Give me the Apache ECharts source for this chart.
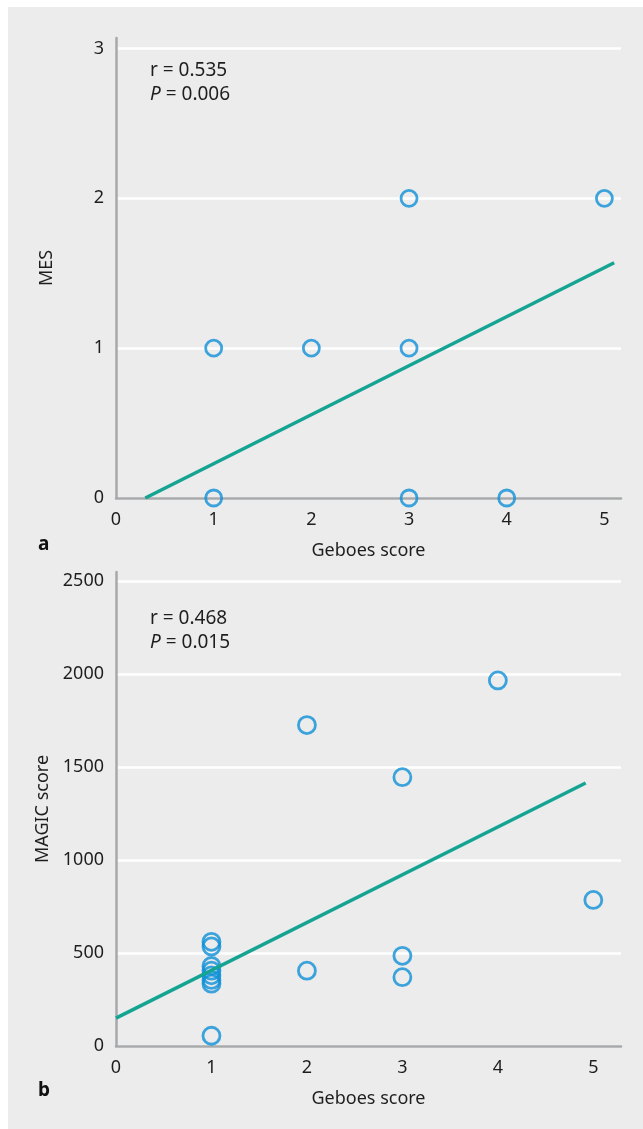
<!DOCTYPE html>
<html>
<head>
<meta charset="utf-8">
<script src="https://cdn.jsdelivr.net/npm/echarts@6/dist/echarts.min.js"></script>
<style>
html,body{margin:0;padding:0;background:#fff;}
#c{width:643px;height:1129px;}
</style>
</head>
<body>
<div id="c"></div>
<script>
// Panel a: MES vs Geboes score
const mesPoints = [[1,0],[1,1],[2,1],[3,0],[3,1],[3,2],[4,0],[5,2]];
const mesFit = [[0.3,0],[5.1,1.57]];
const mesStats = {r: '0.535', p: '0.006'};
// Panel b: MAGIC score vs Geboes score
const magicPoints = [[1,55],[1,560],[1,535],[1,430],[1,405],[1,380],[1,355],[1,335],
  [2,1725],[2,405],[3,1445],[3,485],[3,370],[4,1965],[5,785]];
const magicFit = [[0,150],[4.92,1414]];
const magicStats = {r: '0.468', p: '0.015'};
const xTicks = [0,1,2,3,4,5];
const mesTicks = [0,1,2,3];
const magicTicks = [0,500,1000,1500,2000,2500];

const FONT = 'Noto Sans';
const TXT = '#1e1e1e';
const PT = '#0f90d8';
const LN = '#15a493';

function xAxisCfg(gi, max){
  return {
    gridIndex: gi, type:'value', min:0, max:max, interval:1,
    name:'Geboes score', nameLocation:'middle', nameGap:44,
    nameTextStyle:{fontFamily:FONT, fontSize:18, color:TXT},
    axisLine:{show:true, onZero:false, lineStyle:{color:'#a7a8aa', width:2.5}},
    axisTick:{show:false},
    splitLine:{show:false},
    axisLabel:{fontFamily:FONT, fontSize:18, color:TXT, margin:13,
      formatter:v => xTicks.includes(v) ? String(v) : ''}
  };
}
function yAxisCfg(gi, max, interval, name, gap, ticks){
  return {
    gridIndex: gi, type:'value', min:0, max:max, interval:interval,
    name:name, nameLocation:'middle', nameGap:gap,
    nameTextStyle:{fontFamily:FONT, fontSize:18, color:TXT},
    axisLine:{show:true, lineStyle:{color:'#a7a8aa', width:2.5}},
    axisTick:{show:false},
    splitLine:{show:true, showMaxLine:false, lineStyle:{color:'#ffffff', width:2.5}},
    axisLabel:{fontFamily:FONT, fontSize:18, color:TXT, margin:12,
      showMaxLabel:false,
      formatter:v => ticks.includes(v) ? String(v) : ''}
  };
}

const rich = {
  n:{fontFamily:FONT, fontSize:19, fill:TXT, lineHeight:24},
  i:{fontFamily:FONT, fontSize:19, fontStyle:'italic', fill:TXT, lineHeight:24}
};

const chart = echarts.init(document.getElementById('c'), null, {renderer:'canvas'});
chart.setOption({
  backgroundColor:'#ffffff',
  animation:false,
  graphic:[
    {type:'rect', left:8, top:7, shape:{width:635, height:1122}, style:{fill:'#ebeceb'}, z:-10},
    {type:'text', left:38, top:535, style:{text:'a', font:'bold 19px "Noto Sans"', fill:'#111'}},
    {type:'text', left:38, top:1081, style:{text:'b', font:'bold 19px "Noto Sans"', fill:'#111'}},
    {type:'text', left:150, top:61, style:{
      text:'{n|r = ' + mesStats.r + '}\n{i|P}{n| = ' + mesStats.p + '}', rich:rich}},
    {type:'text', left:150, top:609, style:{
      text:'{n|r = ' + magicStats.r + '}\n{i|P}{n| = ' + magicStats.p + '}', rich:rich}}
  ],
  grid:[
    {left:116, top:38, width:505, height:460},
    {left:116, top:572, width:505, height:474}
  ],
  xAxis:[ xAxisCfg(0, 5.17), xAxisCfg(1, 5.29) ],
  yAxis:[
    yAxisCfg(0, 3.07, 1, 'MES', 60, mesTicks),
    yAxisCfg(1, 2548, 500, 'MAGIC score', 59, magicTicks)
  ],
  series:[
    {type:'scatter', xAxisIndex:0, yAxisIndex:0, data:mesPoints, symbol:'circle', symbolSize:16,
      itemStyle:{color:'rgba(0,0,0,0)', borderColor:PT, borderWidth:2.8}, z:2},
    {type:'line', xAxisIndex:0, yAxisIndex:0, data:mesFit, showSymbol:false, symbol:'none',
      lineStyle:{color:LN, width:3.5}, z:3},
    {type:'scatter', xAxisIndex:1, yAxisIndex:1, data:magicPoints, symbol:'circle', symbolSize:17,
      itemStyle:{color:'rgba(0,0,0,0)', borderColor:PT, borderWidth:2.8}, z:2},
    {type:'line', xAxisIndex:1, yAxisIndex:1, data:magicFit, showSymbol:false, symbol:'none',
      lineStyle:{color:LN, width:3.5}, z:3}
  ]
});
</script>
</body>
</html>
